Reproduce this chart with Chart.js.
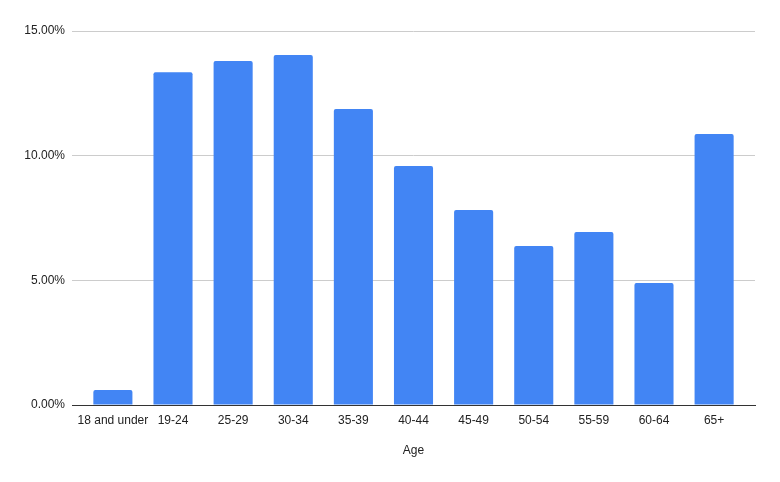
<!DOCTYPE html>
<html>
<head>
<meta charset="utf-8">
<script src="https://cdn.jsdelivr.net/npm/chart.js@4"></script>
<style>
  html, body { margin: 0; padding: 0; background: #fff; }
  #wrap { width: 780px; height: 482px; }
</style>
</head>
<body>
<div id="wrap"><canvas id="ageChart"></canvas></div>
<script>
var ageGroups = ['18 and under', '19-24', '25-29', '30-34', '35-39', '40-44', '45-49', '50-54', '55-59', '60-64', '65+'];
var sharePct = [0.60, 13.35, 13.80, 14.04, 11.87, 9.59, 7.82, 6.38, 6.94, 4.89, 10.87];
var yTicks = [0, 5, 10, 15];

var font = 'Arial, "Liberation Sans", sans-serif';

var ctx = document.getElementById('ageChart').getContext('2d');
var ageChart = new Chart(ctx, {
  type: 'bar',
  data: {
    datasets: [{
      label: 'Share',
      data: sharePct.map(function(v, i) { return { x: i, y: v }; }),
      backgroundColor: '#4285f4',
      borderRadius: { topLeft: 2, topRight: 2 },
      borderSkipped: 'bottom',
      barPercentage: 0.65,
      categoryPercentage: 1.0
    }]
  },
  options: {
    responsive: true,
    maintainAspectRatio: false,
    animation: false,
    layout: { padding: { left: 0, right: 25, top: 31, bottom: 24 } },
    plugins: {
      legend: { display: false },
      tooltip: { enabled: false }
    },
    scales: {
      x: {
        type: 'linear',
        offset: false,
        min: -0.68,
        max: 10.68,
        afterBuildTicks: function(scale) {
          scale.ticks = ageGroups.map(function(_, i) { return { value: i }; });
        },
        grid: { display: false, drawTicks: false },
        border: { display: true, color: '#333333', width: 1 },
        ticks: {
          autoSkip: false,
          maxRotation: 0,
          padding: 8,
          color: '#222222',
          font: { family: font, size: 12 },
          callback: function(v) { return ageGroups[v]; }
        },
        title: {
          display: true,
          text: 'Age',
          color: '#222222',
          font: { family: font, size: 12 },
          padding: { top: 0, bottom: 0 }
        },
        afterFit: function(scale) { scale.height = 53; }
      },
      y: {
        min: 0,
        max: 15,
        afterBuildTicks: function(scale) {
          scale.ticks = yTicks.map(function(v) { return { value: v }; });
        },
        grid: { color: '#cccccc', drawTicks: false },
        border: { display: false },
        ticks: {
          padding: 7,
          color: '#222222',
          font: { family: font, size: 12 },
          callback: function(v) { return v.toFixed(2) + '%'; }
        },
        afterFit: function(scale) { scale.width = 72; }
      }
    }
  }
});
</script>
</body>
</html>
